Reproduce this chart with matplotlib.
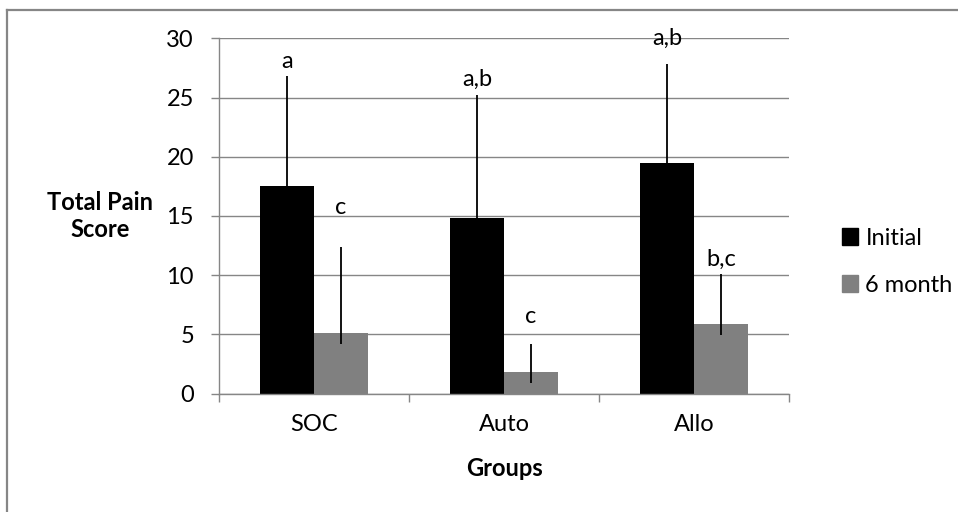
import matplotlib
matplotlib.use("Agg")
import matplotlib.pyplot as plt
from matplotlib.lines import Line2D
from matplotlib.patches import Patch
import numpy as np

groups = ["SOC", "Auto", "Allo"]
series = ["Initial", "6 month"]

initial = [17.5, 14.8, 19.5]
initial_err_top = [26.8, 25.2, 27.8]

month6 = [5.1, 1.8, 5.9]
month6_err_low = [4.2, 0.9, 4.9]
month6_err_top = [12.4, 4.2, 10.1]

initial_sig = ["a", "a,b", "a,b"]
initial_sig_y = [28.0, 26.5, 30.0]
month6_sig = ["c", "c", "b,c"]
month6_sig_y = [15.7, 6.5, 11.3]

grey = "#868686"
plt.rcParams["font.family"] = ["Lato", "DejaVu Sans"]
plt.rcParams["font.size"] = 17

W, H = 958, 512
fig = plt.figure(figsize=(W / 100, H / 100), dpi=100)
ax = fig.add_axes([219 / W, 1 - 393.5 / H, 570 / W, 355.2 / H])

x = np.arange(len(groups))
bw = 0.284
ax.bar(x - bw / 2, initial, bw, color="black", zorder=2)
ax.bar(x + bw / 2, month6, bw, color="#808080", zorder=2)

# error bars (only the upper part shows for Initial)
ax.vlines(x - bw / 2, initial, initial_err_top, color="black", lw=1.3, zorder=3)
ax.vlines(x + bw / 2, month6_err_low, month6_err_top, color="black", lw=1.3, zorder=3)

for i in range(len(groups)):
    ax.text(x[i] - bw / 2, initial_sig_y[i], initial_sig[i], ha="center", va="center")
    ax.text(x[i] + bw / 2, month6_sig_y[i], month6_sig[i], ha="center", va="center")

ax.set_ylim(0, 30)
ax.set_yticks(range(0, 31, 5))
ax.set_xlim(-0.5, 2.5)
ax.set_xticks([-0.5, 0.5, 1.5, 2.5])
ax.set_xticklabels([])
ax.set_xticks(x, minor=True)
ax.set_xticklabels(groups, minor=True)
ax.tick_params(axis="x", which="minor", length=0, pad=15)
ax.tick_params(axis="x", which="major", length=6, color=grey, width=1)
ax.tick_params(axis="y", length=6, color=grey, width=1, pad=12)

ax.grid(axis="y", color=grey, lw=1, zorder=0)
ax.set_axisbelow(True)
for s in ["top", "right"]:
    ax.spines[s].set_visible(False)
for s in ["left", "bottom"]:
    ax.spines[s].set_color(grey)
    ax.spines[s].set_linewidth(1)

ax.set_ylabel("Total Pain\nScore", rotation=0, weight="bold", ha="center", va="center",
              linespacing=1.25)
ax.yaxis.set_label_coords(-0.209, 0.5)
ax.set_xlabel("Groups", weight="bold", va="center")
ax.xaxis.set_label_coords(0.5, -0.21)

handles = [Patch(color="black"), Patch(color="#808080")]
fig.legend(handles, series, loc="center left", bbox_to_anchor=(830 / W, 1 - 262 / H),
           frameon=False, handlelength=0.7, handleheight=0.7, handletextpad=0.3,
           labelspacing=1.1, borderpad=0)

# chart area border (left and top edges)
fig.add_artist(Line2D([7 / W, 7 / W], [0, 1 - 9.5 / H], color=grey, lw=1.6))
fig.add_artist(Line2D([7 / W, 1], [1 - 9.5 / H, 1 - 9.5 / H], color=grey, lw=1.6))

fig.savefig("out.png", dpi=100)
